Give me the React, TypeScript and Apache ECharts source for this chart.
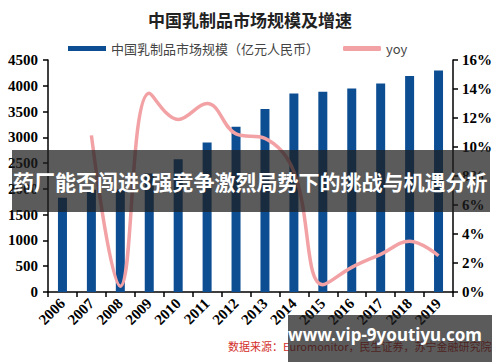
import React, { useEffect, useRef } from "react";
import * as echarts from "echarts";

const years = ["2006", "2007", "2008", "2009", "2010", "2011", "2012", "2013", "2014", "2015", "2016", "2017", "2018", "2019"];
const marketSize = [1830, 1985, 1990, 2300, 2575, 2900, 3205, 3550, 3850, 3885, 3945, 4045, 4190, 4295];
const yoy = [null, 10.8, 0.4, 13.7, 11.9, 13.0, 10.9, 10.6, 8.3, 0.5, 1.7, 2.6, 3.5, 2.5];
const titleText = "中国乳制品市场规模及增速";
const barName = "中国乳制品市场规模（亿元人民币）";
const lineName = "yoy";
const sourceText = "数据来源：Euromonitor，民生证券，苏宁金融研究院";
const bannerText = "药厂能否闯进8强竞争激烈局势下的挑战与机遇分析";
const watermarkText = "www.vip-9youtiyu.com";

const serif = "'Liberation Serif', 'DejaVu Serif', serif";
const cjk = "'Noto Sans CJK SC', sans-serif";

export default function App() {
  const ref = useRef<HTMLDivElement>(null);
  useEffect(() => {
    if (!ref.current) return;
    const chart = echarts.init(ref.current, null, { renderer: "svg" });
    const axisLine = { show: true, lineStyle: { color: "#000", width: 1.5 } };
    const axisTick = { show: true, length: 5, lineStyle: { color: "#000", width: 1.5 } };
    chart.setOption({
      animation: false,
      backgroundColor: "#fff",
      title: {
        text: titleText,
        left: "center",
        top: 6,
        textStyle: { fontFamily: cjk, fontSize: 17, fontWeight: "bold", color: "#222" },
      },
      legend: {
        left: 63,
        top: 37,
        itemWidth: 38,
        itemHeight: 5,
        itemGap: 24,
        textStyle: { fontFamily: cjk, fontSize: 13, color: "#444" },
        data: [
          { name: barName, icon: "rect" },
          { name: lineName, icon: "roundRect", itemStyle: { color: "#f2a2a5" } },
        ],
      },
      grid: { left: 48, right: 47, top: 60, bottom: 70 },
      xAxis: {
        type: "category",
        data: years,
        boundaryGap: true,
        axisLine,
        axisTick: { ...axisTick, alignWithLabel: false },
        axisLabel: {
          rotate: 45,
          margin: 9,
          interval: 0,
          fontFamily: serif,
          fontWeight: "bold",
          fontSize: 15,
          color: "#000",
        },
      },
      yAxis: [
        {
          type: "value",
          min: 0,
          max: 4500,
          interval: 500,
          axisLine,
          axisTick,
          splitLine: { show: false },
          axisLabel: {
            margin: 10,
            formatter: (v: number) => String(v),
            fontFamily: serif,
            fontWeight: "bold",
            fontSize: 15,
            color: "#000",
          },
        },
        {
          type: "value",
          min: 0,
          max: 16,
          interval: 2,
          position: "right",
          axisLine,
          axisTick,
          splitLine: { show: false },
          axisLabel: {
            margin: 9,
            formatter: "{value}%",
            fontFamily: serif,
            fontWeight: "bold",
            fontSize: 15,
            color: "#000",
          },
        },
      ],
      series: [
        {
          name: barName,
          type: "bar",
          data: marketSize,
          barWidth: 9,
          itemStyle: { color: "#0d4e93" },
          z: 2,
        },
        {
          name: lineName,
          type: "line",
          yAxisIndex: 1,
          data: yoy,
          smooth: 0.4,
          showSymbol: false,
          symbol: "none",
          lineStyle: { color: "#f2a2a5", width: 3.5 },
          itemStyle: { color: "#f2a2a5" },
          z: 3,
        },
      ],
      graphic: [
        {
          type: "text",
          left: 228,
          top: 340,
          z: 50,
          style: { text: sourceText, fontFamily: cjk, fontSize: 11, fill: "#d3302c" },
        },
        {
          type: "rect",
          z: 100,
          shape: { x: 12, y: 150, width: 478, height: 62 },
          style: { fill: "rgba(30,30,30,0.73)" },
        },
        {
          type: "text",
          z: 101,
          x: 13,
          y: 181,
          style: {
            text: bannerText,
            fontFamily: cjk,
            fontWeight: "bold",
            fontSize: 21,
            fill: "#fff",
            verticalAlign: "middle",
          },
        },
        {
          type: "rect",
          z: 100,
          shape: { x: 288, y: 315, width: 204, height: 47 },
          style: { fill: "rgba(30,30,30,0.73)" },
        },
        {
          type: "text",
          z: 101,
          x: 385,
          y: 334,
          style: {
            text: watermarkText,
            fontFamily: "'Noto Sans', sans-serif",
            fontWeight: "bold",
            fontSize: 17,
            fill: "#fff",
            align: "center",
            verticalAlign: "middle",
          },
        },
      ],
    });
    return () => chart.dispose();
  }, []);
  return <div ref={ref} style={{ width: 500, height: 362, position: "absolute", left: 0, top: 0 }} />;
}
